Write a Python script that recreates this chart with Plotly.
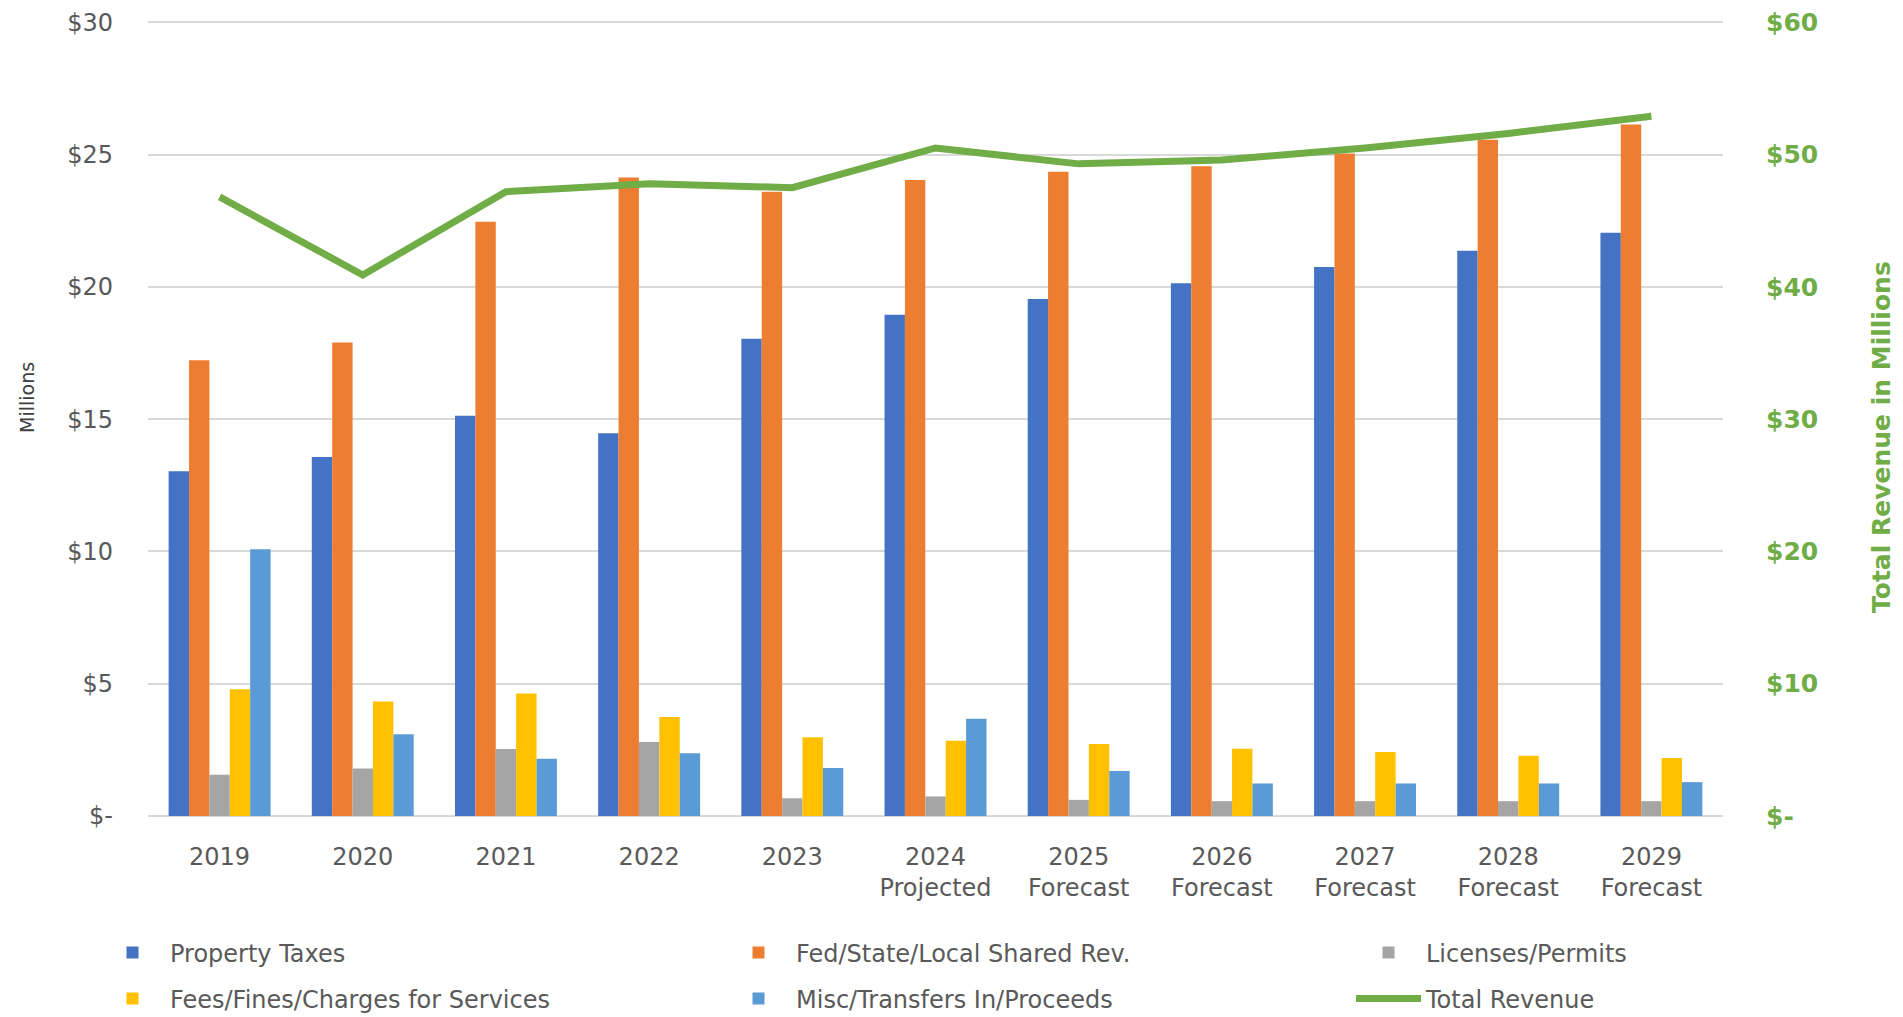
import plotly.graph_objects as go

categories = ["2019", "2020", "2021", "2022", "2023", "2024<br>Projected",
              "2025<br>Forecast", "2026<br>Forecast", "2027<br>Forecast",
              "2028<br>Forecast", "2029<br>Forecast"]
property_taxes = [13.03, 13.57, 15.13, 14.47, 18.04, 18.95, 19.54, 20.14, 20.75, 21.37, 22.05]
fed_state_local = [17.23, 17.90, 22.46, 24.13, 23.60, 24.04, 24.35, 24.56, 25.04, 25.56, 26.14]
licenses_permits = [1.56, 1.80, 2.53, 2.80, 0.67, 0.74, 0.61, 0.56, 0.56, 0.56, 0.56]
fees_fines = [4.79, 4.33, 4.63, 3.74, 2.98, 2.84, 2.72, 2.54, 2.42, 2.28, 2.19]
misc_transfers = [10.08, 3.09, 2.16, 2.37, 1.81, 3.68, 1.70, 1.23, 1.23, 1.23, 1.28]
total_revenue = [46.8, 40.9, 47.2, 47.8, 47.5, 50.5, 49.3, 49.6, 50.5, 51.6, 52.9]

left_tickvals = [0, 5, 10, 15, 20, 25, 30]
left_ticktext = ["$-", "$5", "$10", "$15", "$20", "$25", "$30"]
right_tickvals = [0, 10, 20, 30, 40, 50, 60]
right_ticktext = ["$-", "$10", "$20", "$30", "$40", "$50", "$60"]

GREY = "#595959"
GREEN = "#70AD47"
GRID = "#D9D9D9"
FONT = "DejaVu Sans"

fig = go.Figure()
bar_series = [
    ("Property Taxes", property_taxes, "#4472C4", "legend"),
    ("Fed/State/Local Shared Rev.", fed_state_local, "#ED7D31", "legend2"),
    ("Licenses/Permits", licenses_permits, "#A5A5A5", "legend3"),
    ("Fees/Fines/Charges for Services", fees_fines, "#FFC000", "legend4"),
    ("Misc/Transfers In/Proceeds", misc_transfers, "#5B9BD5", "legend5"),
]
for name, vals, color, lg in bar_series:
    fig.add_trace(go.Bar(x=categories, y=vals, name=name, marker_color=color,
                         marker_line_width=0, legend=lg, yaxis="y",
                         showlegend=True))

fig.add_trace(go.Scatter(x=categories, y=total_revenue, name="Total Revenue",
                         mode="lines", line=dict(color=GREEN, width=7),
                         yaxis="y2", legend="legend6", showlegend=True))

W, H = 1903, 1017
L, R, T, B = 148, 180, 21, 201
col_x = [95, 721, 1351]
row_y = [953, 999]
legend_font = dict(family=FONT, size=24, color=GREY)

def leg(cx, ry):
    return dict(xref="container", yref="container", x=cx / W, y=1 - ry / H,
                xanchor="left", yanchor="middle", orientation="v",
                itemwidth=65, font=legend_font, bgcolor="rgba(0,0,0,0)",
                borderwidth=0, itemclick=False)

pw = W - L - R
ph = H - T - B

fig.update_layout(
    width=W, height=H,
    margin=dict(l=L, r=R, t=T, b=B, autoexpand=False),
    showlegend=True,
    plot_bgcolor="white", paper_bgcolor="white",
    barmode="group", bargap=0.288, bargroupgap=0,
    font=dict(family=FONT, color=GREY),
    xaxis=dict(tickfont=dict(family=FONT, size=24, color=GREY), tickangle=0,
               showgrid=False, showline=False, ticks="", ticklabelstandoff=24),
    yaxis=dict(range=[0, 30.05], tickvals=left_tickvals, ticktext=left_ticktext,
               tickfont=dict(family=FONT, size=24, color=GREY),
               showgrid=True, gridcolor=GRID, gridwidth=1.5,
               zeroline=True, zerolinecolor=GRID, zerolinewidth=1.5,
               showline=False, ticks="", ticklabelstandoff=34),
    yaxis2=dict(range=[0, 60.1], tickvals=right_tickvals, ticktext=right_ticktext,
                overlaying="y", side="right", showgrid=False, zeroline=False,
                tickfont=dict(family=FONT, size=25, color=GREEN, weight="bold"),
                ticks="", ticklabelstandoff=42),
    annotations=[
        dict(text="Millions", xref="paper", yref="paper",
             x=(27 - L) / pw, y=(H - B - 398) / ph, textangle=-90,
             showarrow=False, xanchor="center", yanchor="middle",
             font=dict(family=FONT, size=19, color="#404040")),
        dict(text="Total Revenue in Millions", xref="paper", yref="paper",
             x=(1881 - L) / pw, y=(H - B - 437) / ph, textangle=-90,
             showarrow=False, xanchor="center", yanchor="middle",
             font=dict(family=FONT, size=25, color=GREEN, weight="bold")),
    ],
    legend=leg(col_x[0], row_y[0]),
    legend2=leg(col_x[1], row_y[0]),
    legend3=leg(col_x[2], row_y[0]),
    legend4=leg(col_x[0], row_y[1]),
    legend5=leg(col_x[1], row_y[1]),
    legend6=leg(col_x[2], row_y[1]),
)

fig.write_html("out.html")
